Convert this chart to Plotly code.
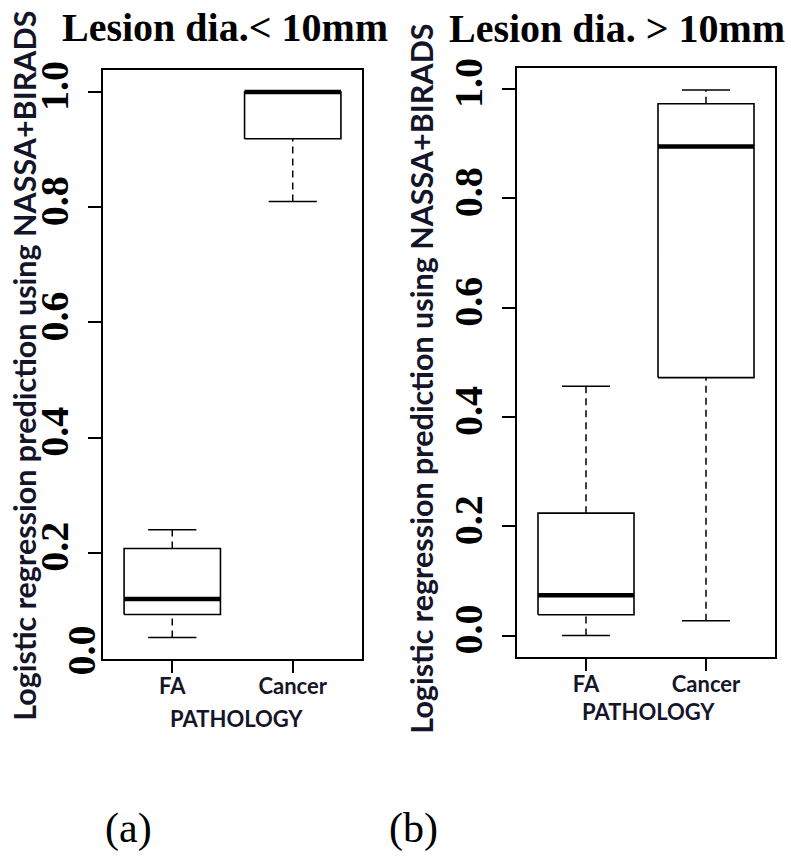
import plotly.graph_objects as go

# ---------------- data ----------------
groups = ["FA", "Cancer"]
group_pos = [1, 2]

# Panel (a): lesion diameter < 10 mm
a_lower = [0.053, 0.81]
a_q1 = [0.093, 0.919]
a_med = [0.12, 1.0]
a_q3 = [0.2075, 1.0]
a_upper = [0.24, 1.0]

# Panel (b): lesion diameter > 10 mm
b_lower = [0.0, 0.027]
b_q1 = [0.038, 0.472]
b_med = [0.074, 0.895]
b_q3 = [0.224, 0.973]
b_upper = [0.456, 0.998]

y_ticks = [0.0, 0.2, 0.4, 0.6, 0.8, 1.0]
y_ticklabels = ["0.0", "0.2", "0.4", "0.6", "0.8", "1.0"]

titles = ["Lesion dia.< 10mm", "Lesion dia. > 10mm"]
panel_labels = ["(a)", "(b)"]
y_title = "Logistic regression prediction using NASSA+BIRADS"
x_title = "PATHOLOGY"

# ---------------- styling ----------------
INK = "#15152a"
SERIF = "Liberation Serif"
SANS = "Lato"
HALF = 0.4      # half box width
CAP = 0.2       # half whisker-cap width

fig = go.Figure()


def add_boxes(xref, yref, lower, q1, med, q3, upper):
    for p, lo, a, m, b, hi in zip(group_pos, lower, q1, med, q3, upper):
        common = dict(xaxis=xref, yaxis=yref, mode="lines", showlegend=False,
                      hoverinfo="skip", cliponaxis=False)
        # whiskers (dashed)
        fig.add_trace(go.Scatter(x=[p, p], y=[b, hi],
                                 line=dict(color="black", width=1.5, dash="7px,5px"), **common))
        fig.add_trace(go.Scatter(x=[p, p], y=[lo, a],
                                 line=dict(color="black", width=1.5, dash="7px,5px"), **common))
        # caps
        if hi > b:
            fig.add_trace(go.Scatter(x=[p - CAP, p + CAP], y=[hi, hi],
                                     line=dict(color="black", width=1.5), **common))
        if lo < a:
            fig.add_trace(go.Scatter(x=[p - CAP, p + CAP], y=[lo, lo],
                                     line=dict(color="black", width=1.5), **common))
        # box
        fig.add_trace(go.Scatter(x=[p - HALF, p + HALF, p + HALF, p - HALF, p - HALF],
                                 y=[a, a, b, b, a], fill="toself", fillcolor="white",
                                 line=dict(color="black", width=1.6), **common))
        # median
        fig.add_trace(go.Scatter(x=[p - HALF, p + HALF], y=[m, m],
                                 line=dict(color="black", width=4.5), **common))


add_boxes("x", "y", a_lower, a_q1, a_med, a_q3, a_upper)
add_boxes("x2", "y2", b_lower, b_q1, b_med, b_q3, b_upper)

W, H = 791, 860

xcommon = dict(range=[0.425, 2.575], tickvals=group_pos, ticktext=groups,
               ticks="outside", ticklen=12, tickwidth=1.5, tickcolor="black",
               ticklabelstandoff=-6,
               showline=True, linecolor="black", linewidth=1.5, mirror=True,
               showgrid=False, zeroline=False,
               tickfont=dict(family=SANS, size=22, color=INK, weight="bold"))
ycommon = dict(tickvals=y_ticks, ticktext=y_ticklabels, tickangle=-90,
               ticks="outside", ticklen=13, tickwidth=1.5, tickcolor="black",
               ticklabelstandoff=4,
               showline=True, linecolor="black", linewidth=1.5, mirror=True,
               showgrid=False, zeroline=False,
               tickfont=dict(family=SERIF, size=40, color="black", weight="bold"))

fig.update_layout(
    width=W, height=H,
    margin=dict(l=0, r=0, t=0, b=0),
    paper_bgcolor="white", plot_bgcolor="white",
    xaxis=dict(domain=[103 / W, 362 / W], anchor="y", **xcommon),
    yaxis=dict(domain=[1 - 657 / H, 1 - 61 / H], range=[0.0151, 1.0379], anchor="x", **ycommon),
    xaxis2=dict(domain=[517 / W, 775 / W], anchor="y2", **xcommon),
    yaxis2=dict(domain=[1 - 655 / H, 1 - 59 / H], range=[-0.0399, 1.0379], anchor="x2", **ycommon),
)

ann = []
# panel titles
for txt, cx, cy in zip(titles, [225, 617], [18, 19]):
    ann.append(dict(text=txt, x=cx / W, y=1 - cy / H, xref="paper", yref="paper",
                    showarrow=False, xanchor="center", yanchor="middle",
                    font=dict(family=SERIF, size=40, color="black", weight="bold")))
# y axis titles
for cx, cy in zip([24, 421], [360, 373]):
    ann.append(dict(text=y_title, x=cx / W, y=1 - cy / H, xref="paper", yref="paper",
                    showarrow=False, textangle=-90, xanchor="center", yanchor="middle",
                    font=dict(family=SANS, size=30.5, color=INK, weight="bold")))
# x axis titles
for cx, cy in zip([237, 648], [717, 710]):
    ann.append(dict(text=x_title, x=cx / W, y=1 - cy / H, xref="paper", yref="paper",
                    showarrow=False, xanchor="center", yanchor="middle",
                    font=dict(family=SANS, size=22, color=INK, weight="bold")))
# panel labels
for txt, cx in zip(panel_labels, [128, 413]):
    ann.append(dict(text=txt, x=cx / W, y=1 - 828 / H, xref="paper", yref="paper",
                    showarrow=False, xanchor="center", yanchor="middle",
                    font=dict(family=SERIF, size=42, color="black")))
# stray 0.0 label of panel (a) (its tick lies below the plotting region)
ann.append(dict(text=y_ticklabels[0], x=81 / W, y=1 - 648 / H, xref="paper", yref="paper",
                showarrow=False, textangle=-90, xanchor="center", yanchor="middle",
                font=dict(family=SERIF, size=40, color="black", weight="bold")))

fig.update_layout(annotations=ann)

fig.write_html("out.html", config={"displayModeBar": False},
               post_script="document.body.style.margin='0px';")
